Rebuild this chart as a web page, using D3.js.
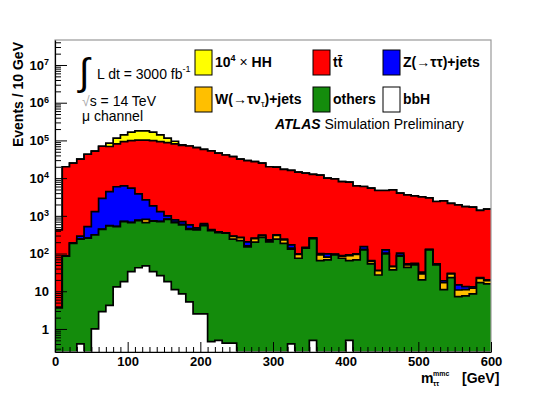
<!doctype html>
<html lang="en">
  <head>
    <meta charset="utf-8" />
    <title>m_tautau mmc - mu channel</title>
    <script src="https://cdn.jsdelivr.net/npm/d3@7"></script>
    <style>
      body { margin: 0; background: #fff; }
      svg { font-family: "Liberation Sans", Arial, Helvetica, sans-serif; }
    </style>
  </head>
  <body>
    <svg id="main" width="547" height="393"></svg>
    <script>
      // 10 GeV bins from 0 to 600 GeV (low edges)
      const binLow = d3.range(0, 600, 10);

      // stacked backgrounds, events per bin
      const others = [3.6, 85, 187, 240, 255, 310, 440, 540, 520, 700,
        660, 750, 660, 720, 700, 810, 660, 575, 440, 425,
        550, 405, 360, 345, 240, 220, 150, 200, 270, 205,
        240, 187, 130, 75, 138, 250, 65, 68, 92, 75,
        65, 68, 125, 53, 27, 98, 37, 85, 43, 50,
        20, 125, 50, 11, 23, 7.2, 7.5, 8.5, 17, 15.6];
      const wjets = [0, 0, 1, 2, 3, 5, 5, 8, 10, 10,
        12, 15, 150, 15, 15, 15, 20, 20, 20, 20,
        20, 15, 10, 5, 45, 42, 10, 50, 30, 20,
        65, 43, 10, 20, 4, 5, 27, 12, 3, 10,
        23, 27, 5, 9, 8, 4, 8, 4, 7, 3,
        9, 3, 2, 6, 6, 3.6, 3.5, 3.5, 5, 3.4];
      const zjets = [0, 2, 4, 48, 262, 985, 2455, 3852, 5370, 5490,
        4728, 3035, 1840, 1095, 585, 175, 100, 105, 115, 35,
        50, 10, 5, 5, 5, 8, 45, 8, 10, 5,
        7, 10, 30, 3, 3, 5, 8, 18, 2, 3,
        4, 3, 22, 3, 1, 23, 1, 14, 3, 2,
        3, 2, 1, 2, 1, 3.9, 2.2, 1, 1, 1];
      const ttbar = [421, 19913, 24808, 31710, 42480, 50700, 67100, 64600, 75100, 86800,
        93600, 98200, 99350, 97170, 91700, 86000, 80220, 73300, 70425, 63520,
        57380, 52570, 45625, 40645, 36710, 31730, 28795, 27242, 24690, 19770,
        19188, 16760, 15830, 14402, 13355, 12340, 11900, 9902, 9403, 8012,
        7708, 6102, 5848, 5335, 4664, 4575, 4854, 3897, 3547, 3345,
        3168, 2870, 2347, 2481, 2120, 1935, 1737, 1687, 1377, 1480];
      // signal x 10^4, stacked on top
      const hh = [0, 0, 0, 0, 0, 0, 0, 16000, 34000, 47000,
        66000, 78000, 78000, 66000, 47000, 28000, 14000, 2000, 0, 0,
        0, 0, 0, 0, 0, 0, 0, 0, 0, 0,
        0, 0, 0, 0, 0, 0, 0, 0, 0, 0,
        0, 0, 0, 0, 0, 0, 0, 0, 0, 0,
        0, 0, 0, 0, 0, 0, 0, 0, 0, 0];
      // bbH, overlaid (not stacked)
      const bbh = [0, 0, 0, 0.4, 0, 1.0, 2.9, 4.2, 13, 18,
        33, 42, 47, 33, 26, 18, 11, 8.5, 5.2, 2.5,
        2.5, 0.46, 0.5, 0.42, 0.42, 0, 0, 0, 0, 0,
        0, 0, 0.4, 0, 0, 0.5, 0, 0, 0, 0,
        0.5, 0, 0, 0, 0, 0, 0, 0, 0, 0,
        0, 0, 0, 0, 0, 0, 0, 0, 0, 0];

      const xTicks = [0, 100, 200, 300, 400, 500, 600];
      const yTicks = [1, 10, 1e2, 1e3, 1e4, 1e5, 1e6, 1e7];

      const keys = ['others', 'wjets', 'zjets', 'ttbar', 'hh'];
      const colors = { others: '#148c0c', wjets: '#ffbf00', zjets: '#0000ff', ttbar: '#ff0000', hh: '#ffff00', bbh: '#ffffff' };

      const W = 547, H = 393;
      const m = { left: 55, right: 56, top: 40, bottom: 41 };
      const yMin = 0.245, yMax = 4.6e7;

      const x = d3.scaleLinear().domain([0, 600]).range([m.left, W - m.right]);
      const y = d3.scaleLog().domain([yMin, yMax]).range([H - m.bottom, m.top]).clamp(true);
      const yv = (v) => y(Math.max(v, yMin));
      const y0 = y.range()[0];

      const svg = d3.select('#main');

      const rows = binLow.map((lo, i) => ({
        lo, others: others[i], wjets: wjets[i], zjets: zjets[i], ttbar: ttbar[i], hh: hh[i]
      }));
      const stacked = d3.stack().keys(keys)(rows);

      const area = d3.area().curve(d3.curveStepAfter)
        .x((d) => x(d[0])).y0(y0).y1((d) => yv(d[1]));
      const line = d3.line().curve(d3.curveStepAfter)
        .x((d) => x(d[0])).y((d) => yv(d[1]));

      function histPoints(vals) {
        const pts = vals.map((v, i) => [binLow[i], v]);
        pts.push([600, vals[vals.length - 1]]);
        return pts;
      }

      const hists = svg.append('g');
      // draw cumulative layers from the top of the stack down, ROOT style
      stacked.slice().reverse().forEach((layer) => {
        const pts = histPoints(layer.map((d) => d[1]));
        hists.append('path').attr('d', area(pts)).attr('fill', colors[layer.key]);
        hists.append('path').attr('d', line(pts))
          .attr('fill', 'none').attr('stroke', '#000').attr('stroke-width', 1.7);
      });
      const bbPts = histPoints(bbh);
      hists.append('path').attr('d', area(bbPts)).attr('fill', colors.bbh);
      hists.append('path').attr('d', line(bbPts))
        .attr('fill', 'none').attr('stroke', '#000').attr('stroke-width', 1.7);

      // frame
      svg.append('rect')
        .attr('x', m.left).attr('y', m.top)
        .attr('width', W - m.left - m.right).attr('height', H - m.top - m.bottom)
        .attr('fill', 'none').attr('stroke', '#999').attr('stroke-width', 1.2);

      // y axis
      const yMinor = [];
      [0.1].concat(yTicks).forEach((d) => {
        for (let k = 2; k < 10; k++) if (d * k > yMin && d * k < yMax) yMinor.push(d * k);
      });
      svg.append('g').attr('transform', `translate(${m.left},0)`)
        .call(d3.axisLeft(y).tickValues(yMinor).tickSize(-6).tickFormat(''))
        .call((g) => g.select('.domain').remove())
        .selectAll('line').attr('stroke', '#000');
      const yAxis = svg.append('g').attr('transform', `translate(${m.left},0)`)
        .call(d3.axisLeft(y).tickValues(yTicks).tickSizeInner(-12).tickSizeOuter(0).tickPadding(6));
      yAxis.select('.domain').attr('stroke', '#000').attr('stroke-width', 1.2);
      yAxis.selectAll('.tick text')
        .attr('font-size', 13).attr('font-weight', 'bold').attr('fill', '#000')
        .each(function (d) {
          const t = d3.select(this).text(null);
          if (d < 100) { t.text(d); return; }
          t.append('tspan').text('10');
          t.append('tspan').attr('dy', '-0.5em').attr('font-size', 9).text(Math.round(Math.log10(d)));
        });

      // x axis
      svg.append('g').attr('transform', `translate(0,${y0})`)
        .call(d3.axisBottom(x).tickValues(binLow.filter((d) => d % 100 !== 0)).tickSize(-5).tickFormat(''))
        .call((g) => g.select('.domain').remove())
        .selectAll('line').attr('stroke', '#000');
      const xAxis = svg.append('g').attr('transform', `translate(0,${y0})`)
        .call(d3.axisBottom(x).tickValues(xTicks).tickSizeInner(-10).tickSizeOuter(0).tickPadding(5));
      xAxis.select('.domain').attr('stroke', '#000').attr('stroke-width', 1.2);
      xAxis.selectAll('.tick text').attr('font-size', 13).attr('font-weight', 'bold').attr('fill', '#000');

      // axis titles
      svg.append('text')
        .attr('transform', `translate(23,${m.top + 2}) rotate(-90)`)
        .attr('text-anchor', 'end').attr('font-size', 14).attr('font-weight', 'bold')
        .text('Events / 10 GeV');

      const xt = svg.append('g').attr('font-weight', 'bold');
      xt.append('text').attr('x', 421).attr('y', 383).attr('font-size', 14).text('m');
      xt.append('text').attr('x', 433).attr('y', 376).attr('font-size', 7).text('mmc');
      xt.append('text').attr('x', 433).attr('y', 386).attr('font-size', 7).text('ττ');
      xt.append('text').attr('x', 462).attr('y', 383).attr('font-size', 14).text('[GeV]');

      // annotations
      const ann = svg.append('g').attr('font-size', 14);
      ann.append('text').attr('x', 79).attr('y', 85).attr('font-size', 38).text('∫');
      const lum = ann.append('text').attr('x', 97).attr('y', 79);
      lum.append('tspan').text('L dt = 3000 fb');
      lum.append('tspan').attr('dy', -7).attr('font-size', 9).text('-1');
      const rs = ann.append('text').attr('x', 82).attr('y', 106);
      rs.append('tspan').attr('fill', '#aaa').text('√');
      rs.append('tspan').text('s = 14 TeV');
      ann.append('text').attr('x', 82).attr('y', 121).text('μ channel');

      const atl = svg.append('text').attr('x', 275).attr('y', 129).attr('font-size', 14);
      atl.append('tspan').attr('font-weight', 'bold').attr('font-style', 'italic').text('ATLAS');
      atl.append('tspan').text(' Simulation Preliminary');

      // legend
      const legend = [
        { key: 'hh', col: 0, row: 0, parts: [['10', 'b'], ['4', 'sup'], [' × ', 'n'], ['HH', 'b']] },
        { key: 'ttbar', col: 1, row: 0, parts: [['tt\u0304', 'b']] },
        { key: 'zjets', col: 2, row: 0, parts: [['Z(→ττ)+jets', 'b']] },
        { key: 'wjets', col: 0, row: 1, parts: [['W(→τν', 'b'], ['τ', 'sub'], [')+jets', 'b']] },
        { key: 'others', col: 1, row: 1, parts: [['others', 'b']] },
        { key: 'bbh', col: 2, row: 1, parts: [['bbH', 'b']] }
      ];
      const colX = [195, 313, 383];
      const rowY = [50, 87];
      const lg = svg.append('g');
      legend.forEach((e) => {
        const bx = colX[e.col], by = rowY[e.row];
        lg.append('rect').attr('x', bx).attr('y', by).attr('width', 17).attr('height', 25)
          .attr('fill', colors[e.key]).attr('stroke', '#000').attr('stroke-width', 1);
        const t = lg.append('text').attr('x', bx + 20).attr('y', by + 17).attr('font-size', 14);
        let shift = 0;
        e.parts.forEach(([s, kind]) => {
          const ts = t.append('tspan').text(s);
          if (kind === 'b') ts.attr('font-weight', 'bold');
          if (kind === 'n') ts.attr('font-weight', 'normal');
          if (kind === 'sup') { ts.attr('font-size', 9).attr('font-weight', 'bold').attr('dy', -6 - shift); shift = -6; }
          else if (kind === 'sub') { ts.attr('font-size', 9).attr('dy', 3 - shift); shift = 3; }
          else if (shift !== 0) { ts.attr('dy', -shift); shift = 0; }
        });
      });
    </script>
  </body>
</html>
